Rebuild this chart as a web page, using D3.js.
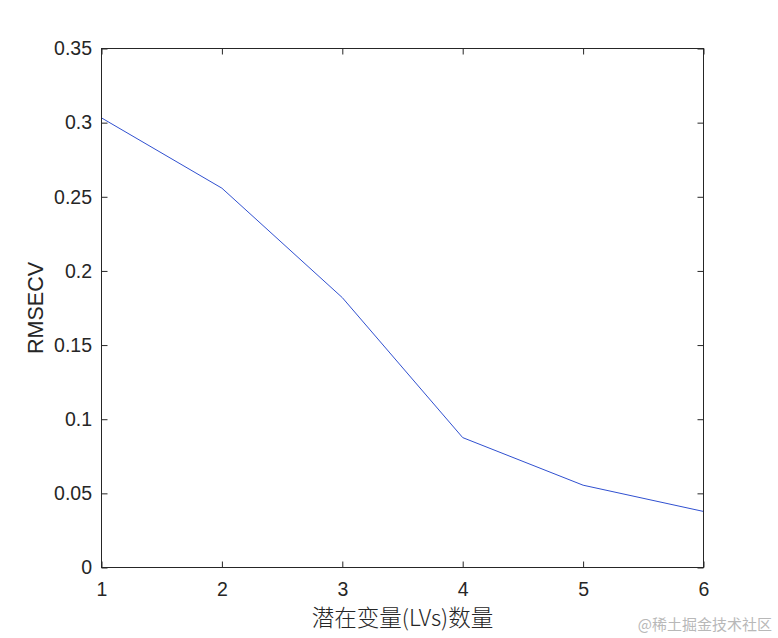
<!DOCTYPE html>
<html><head><meta charset="utf-8">
<script src="https://cdn.jsdelivr.net/npm/d3@7"></script>
<style>body{margin:0;background:#fff}svg{display:block}</style>
</head><body>
<svg id="c" width="778" height="638"></svg>
<script>
const lvs = [1, 2, 3, 4, 5, 6];
const rmsecv = [0.3032, 0.2558, 0.1820, 0.0876, 0.0555, 0.0378];
const xTicks = [1, 2, 3, 4, 5, 6];
const yTicks = [0, 0.05, 0.1, 0.15, 0.2, 0.25, 0.3, 0.35];
const xLabel = "潜在变量(LVs)数量";
const yLabel = "RMSECV";

const svg = d3.select("#c");
const L = 101.5, R = 703.5, T = 48.5, B = 567.5;
const x = d3.scaleLinear().domain([1, 6]).range([L, R]);
const y = d3.scaleLinear().domain([0, 0.35]).range([B, T]);
const ink = "#262626";
const font = "'Liberation Sans', Arial, sans-serif";

// line
svg.append("path")
  .datum(lvs.map((v, i) => [v, rmsecv[i]]))
  .attr("fill", "none").attr("stroke", "#3050d0").attr("stroke-width", 1)
  .attr("d", d3.line().x(d => x(d[0])).y(d => y(d[1])));

const tickLen = 6;
function styleAxis(g) {
  g.select(".domain").remove();
  g.selectAll("line").attr("stroke", ink);
  g.selectAll("text").attr("fill", ink).attr("font-family", font).attr("font-size", 19.5);
}
// bottom axis with inward ticks
svg.append("g").attr("transform", `translate(0,${B})`)
  .call(d3.axisBottom(x).tickValues(xTicks).tickFormat(d3.format("d")).tickSize(-tickLen).tickPadding(15))
  .call(styleAxis);
// left axis
svg.append("g").attr("transform", `translate(${L},0)`)
  .call(d3.axisLeft(y).tickValues(yTicks).tickFormat(d => d === 0 ? "0" : String(d)).tickSize(-tickLen).tickPadding(9.5))
  .call(styleAxis);
// top & right mirrored ticks
svg.append("g").attr("transform", `translate(0,${T})`)
  .call(d3.axisTop(x).tickValues(xTicks).tickFormat("").tickSize(-tickLen))
  .call(styleAxis);
svg.append("g").attr("transform", `translate(${R},0)`)
  .call(d3.axisRight(y).tickValues(yTicks).tickFormat("").tickSize(-tickLen))
  .call(styleAxis);

// box
svg.append("rect").attr("x", L).attr("y", T).attr("width", R - L).attr("height", B - T)
  .attr("fill", "none").attr("stroke", ink).attr("stroke-width", 1);

// labels
svg.append("text").attr("x", (L + R) / 2).attr("y", 626)
  .attr("text-anchor", "middle").attr("fill", ink)
  .attr("font-family", "'Noto Sans CJK SC', sans-serif").attr("font-weight", 300).attr("font-size", 22.5)
  .text(xLabel);
svg.append("text").attr("transform", `translate(43,${(T + B) / 2}) rotate(-90)`)
  .attr("text-anchor", "middle").attr("fill", ink)
  .attr("font-family", font).attr("font-size", 21.5)
  .text(yLabel);

// watermark
svg.append("text").attr("x", 772).attr("y", 630).attr("text-anchor", "end")
  .attr("fill", "#b8b8b8").attr("font-family", "'Noto Sans CJK SC', sans-serif").attr("font-size", 15)
  .text("@稀土掘金技术社区");
</script>
</body></html>
